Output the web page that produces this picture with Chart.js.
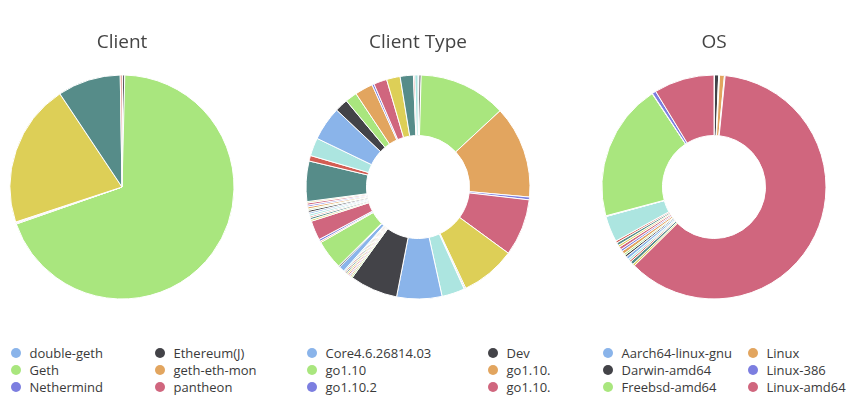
<!DOCTYPE html>
<html><head><meta charset="utf-8">
<script src="https://cdn.jsdelivr.net/npm/chart.js@4.4.0/dist/chart.umd.min.js"></script>
<style>
html,body{margin:0;padding:0;background:#fff;}
body{width:850px;height:395px;position:relative;overflow:hidden;font-family:"Open Sans",sans-serif;}
.panel{position:absolute;top:0;width:296px;height:395px;}
.panel canvas{position:absolute;left:0;top:0;}
.legend{position:absolute;top:345px;left:0;width:254px;height:50px;overflow:hidden;display:grid;}
.legend.rows{grid-auto-rows:16.7px;}
.legend.cols{grid-template-rows:repeat(3,16.7px);grid-auto-flow:column;}
.item{display:flex;align-items:center;white-space:nowrap;font-size:13px;color:#3a3a3a;height:16.7px;}
.dot{width:10px;height:10px;border-radius:50%;margin-left:11px;margin-right:8.5px;flex:none;}
</style>
</head><body>
<div class="panel" style="left:0"><canvas id="c1" width="244" height="310"></canvas><div class="legend rows" id="l1" style="grid-template-columns:144px 144px;width:262px"></div></div>
<div class="panel" style="left:296px"><canvas id="c2" width="244" height="310"></canvas><div class="legend rows" id="l2" style="grid-template-columns:181px 181px;width:254px"></div></div>
<div class="panel" style="left:592px"><canvas id="c3" width="244" height="310"></canvas><div class="legend cols" id="l3" style="grid-auto-columns:145px;width:258px"></div></div>
<script>
const palette = ['#8AB4EA','#434348','#A9E67E','#E2A55F','#7C7EE0','#D0667E','#DDCF57','#568C89','#D35D53','#ACE5E0'];

const clientLabels = ['double-geth','Ethereum(J)','Geth','geth-eth-mon','Nethermind','pantheon','Parity','Parity-Ethereum','Pirl'];
const clientValues = [0.1, 0.3, 69.2, 0.1, 0.1, 0.1, 20.7, 9.1, 0.25];

const typeLabels = ['Core4.6.26814.03','Dev','go1.10','go1.10.1','go1.10.2','go1.10.3','go1.10.4','go1.11','go1.11.1','go1.9','go1.9.1','go1.9.2','go1.9.3','go1.9.4','go1.9.5','go1.9.6','go1.9.7','Java1.8.0','rustc1.20.0','rustc1.21.0','rustc1.22.1','rustc1.23.0','rustc1.24.0','rustc1.24.1','rustc1.25.0','rustc1.26.0','rustc1.26.1','rustc1.26.2','rustc1.27.0','rustc1.27.1','rustc1.27.2','rustc1.28.0','rustc1.29.0','rustc1.29.1','rustc1.29.2','rustc1.30.0','rustc1.30.1','rustc1.31.0','rustc1.31.1','rustc1.32.0','rustc1.33.0','rustc1.34.0','rustc1.34.1','rustc1.34.2','rustc1.35.0','rustc1.36.0','rustc1.37.0','rustc1.38.0','rustc1.39.0','rustc1.40.0'];
const typeValues = [0.15,0.3,12.6,13.3,0.4,8.2,7.9,0.15,0.1,3.3,6.5,6.9,0.2,0.2,0.15,0.2,0.2,0.2,0.18,0.2,0.8,0.2,4.2,0.2,0.3,2.8,0.25,0.3,0.2,0.3,0.25,0.3,0.2,0.3,0.25,0.3,0.2,5.8,0.8,2.6,4.9,1.9,1.7,2.6,0.3,1.9,1.95,1.9,0.2,0.45];

const osLabels = ['Aarch64-linux-gnu','Darwin-amd64','Freebsd-amd64','Linux','Linux-386','Linux-amd64','Linux-arm','Linux-arm64','Linux-mips','Linux-mips64','Linux-mipsle','Linux-ppc64','Linux-ppc64le','Linux-s390x','Netbsd-amd64','Openbsd-amd64','Solaris-amd64','Unix','Unknown','Windows-amd64','X86_64-apple-darwin','X86_64-linux','X86_64-linux-gnu','X86_64-macos','X86_64-pc-windows-msvc','X86_64-unknown-linux-gnu'];
const osValues = [0.07,0.6,0.12,0.7,0.1,60.9,0.3,0.45,0.25,0.3,0.4,0.3,0.25,0.45,0.3,0.4,0.3,0.4,0.3,3.75,0.05,0.05,19.8,0.05,0.55,8.7];

function makeChart(canvasId, legendId, title, type, labels, values) {
  const colors = labels.map((_, i) => palette[i % palette.length]);
  new Chart(document.getElementById(canvasId), {
    type: type,
    data: { labels: labels, datasets: [{ data: values, backgroundColor: colors, borderColor: '#fff', borderWidth: 1, hoverOffset: 0, offset: 0 }] },
    options: {
      responsive: false, animation: false, rotation: 0,
      cutout: type === 'doughnut' ? '46%' : 0,
      radius: 112,
      layout: { padding: { top: 0, bottom: 11, left: 0, right: 0 } },
      plugins: {
        legend: { display: false },
        tooltip: { enabled: false },
        title: { display: true, text: title, color: '#444', font: { family: '"Open Sans"', size: 19, weight: 'normal' }, padding: { top: 31, bottom: 21.2 } }
      }
    }
  });
  const lg = document.getElementById(legendId);
  labels.forEach((lab, i) => {
    const it = document.createElement('div'); it.className = 'item';
    const d = document.createElement('span'); d.className = 'dot'; d.style.background = colors[i];
    const t = document.createElement('span'); t.textContent = lab;
    it.appendChild(d); it.appendChild(t); lg.appendChild(it);
  });
}
makeChart('c1', 'l1', 'Client', 'pie', clientLabels, clientValues);
makeChart('c2', 'l2', 'Client Type', 'doughnut', typeLabels, typeValues);
makeChart('c3', 'l3', 'OS', 'doughnut', osLabels, osValues);
</script>
</body></html>
